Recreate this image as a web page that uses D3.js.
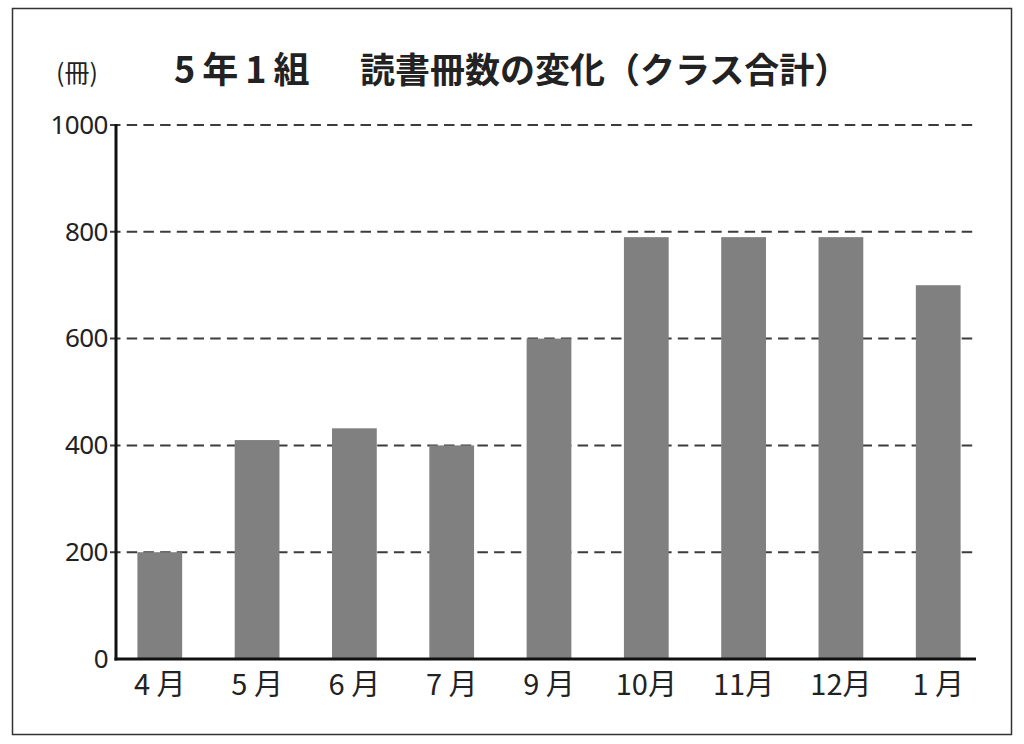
<!DOCTYPE html>
<html>
<head>
<meta charset="utf-8">
<script src="https://cdn.jsdelivr.net/npm/d3@7"></script>
<style>
  body { margin: 0; background: #fff; }
  svg { display: block; }
</style>
</head>
<body>
<div id="chart"></div>
<script>
// months shown on the x axis and the class total for each one
const months = ['4 月', '5 月', '6 月', '7 月', '9 月', '10月', '11月', '12月', '1 月'];
const books = [200, 410, 432, 400, 600, 790, 790, 790, 700];
const yTicks = [0, 200, 400, 600, 800, 1000];

const width = 1024;
const height = 744;
const margin = {left: 116, right: 48, top: 125, bottom: 85};

const svg = d3.select('#chart')
  .append('svg')
  .attr('width', width)
  .attr('height', height);

// outer frame
svg.append('rect')
  .attr('x', 12.5)
  .attr('y', 8.5)
  .attr('width', 999)
  .attr('height', 726)
  .attr('fill', 'none')
  .attr('stroke', '#333')
  .attr('stroke-width', 1.5);

const xScale = d3.scaleBand()
  .domain(months)
  .range([margin.left, 982])
  .paddingInner(0.54)
  .paddingOuter(0.22);

const yScale = d3.scaleLinear()
  .domain([0, 1000])
  .range([height - margin.bottom, margin.top]);

const plotRight = width - margin.right;

// dashed grid lines
svg.append('g')
  .selectAll('line')
  .data(yTicks.filter(d => d > 0))
  .join('line')
  .attr('x1', margin.left - 6)
  .attr('x2', plotRight)
  .attr('y1', d => yScale(d))
  .attr('y2', d => yScale(d))
  .attr('stroke', '#3c3c3c')
  .attr('stroke-width', 2)
  .attr('stroke-dasharray', '10.5,6.2');

// bars
svg.append('g')
  .selectAll('rect')
  .data(books)
  .join('rect')
  .attr('x', (d, i) => xScale(months[i]))
  .attr('width', xScale.bandwidth())
  .attr('y', d => yScale(d))
  .attr('height', d => yScale(0) - yScale(d))
  .attr('fill', '#808080');

// y axis with plain labels
const yAxis = svg.append('g')
  .attr('transform', `translate(${margin.left},0)`)
  .call(d3.axisLeft(yScale).tickValues(yTicks).tickFormat(d3.format('d')).tickSize(0).tickPadding(8));
yAxis.select('.domain').remove();
yAxis.selectAll('text')
  .attr('font-family', '"Noto Sans", sans-serif')
  .attr('font-size', 26)
  .attr('letter-spacing', -0.5)
  .attr('fill', '#222');

// axis lines
svg.append('line')
  .attr('x1', margin.left)
  .attr('x2', margin.left)
  .attr('y1', yScale(1000) - 1)
  .attr('y2', yScale(0) + 1.5)
  .attr('stroke', '#111')
  .attr('stroke-width', 3);
svg.append('line')
  .attr('x1', margin.left - 1.5)
  .attr('x2', plotRight)
  .attr('y1', yScale(0))
  .attr('y2', yScale(0))
  .attr('stroke', '#111')
  .attr('stroke-width', 3);

// x axis labels
const xAxis = svg.append('g')
  .attr('transform', `translate(0,${yScale(0)})`)
  .call(d3.axisBottom(xScale).tickSize(0).tickPadding(15));
xAxis.select('.domain').remove();
xAxis.selectAll('text')
  .attr('font-family', '"Noto Sans CJK JP", sans-serif')
  .attr('font-size', 29)
  .attr('fill', '#222');

// unit label and title
svg.append('text')
  .attr('x', 56)
  .attr('y', 82)
  .attr('font-family', '"Noto Sans CJK JP", sans-serif')
  .attr('font-size', 25)
  .attr('fill', '#222')
  .text('(冊)');

svg.append('text')
  .attr('x', 174)
  .attr('y', 83)
  .attr('font-family', '"Noto Sans CJK JP", sans-serif')
  .attr('font-weight', 'bold')
  .attr('font-size', 36)
  .attr('letter-spacing', 7)
  .attr('fill', '#222')
  .text('5年1組');

svg.append('text')
  .attr('x', 360)
  .attr('y', 83)
  .attr('font-family', '"Noto Sans CJK JP", sans-serif')
  .attr('font-weight', 'bold')
  .attr('font-size', 35)
  .attr('fill', '#222')
  .text('読書冊数の変化（クラス合計）');
</script>
</body>
</html>
